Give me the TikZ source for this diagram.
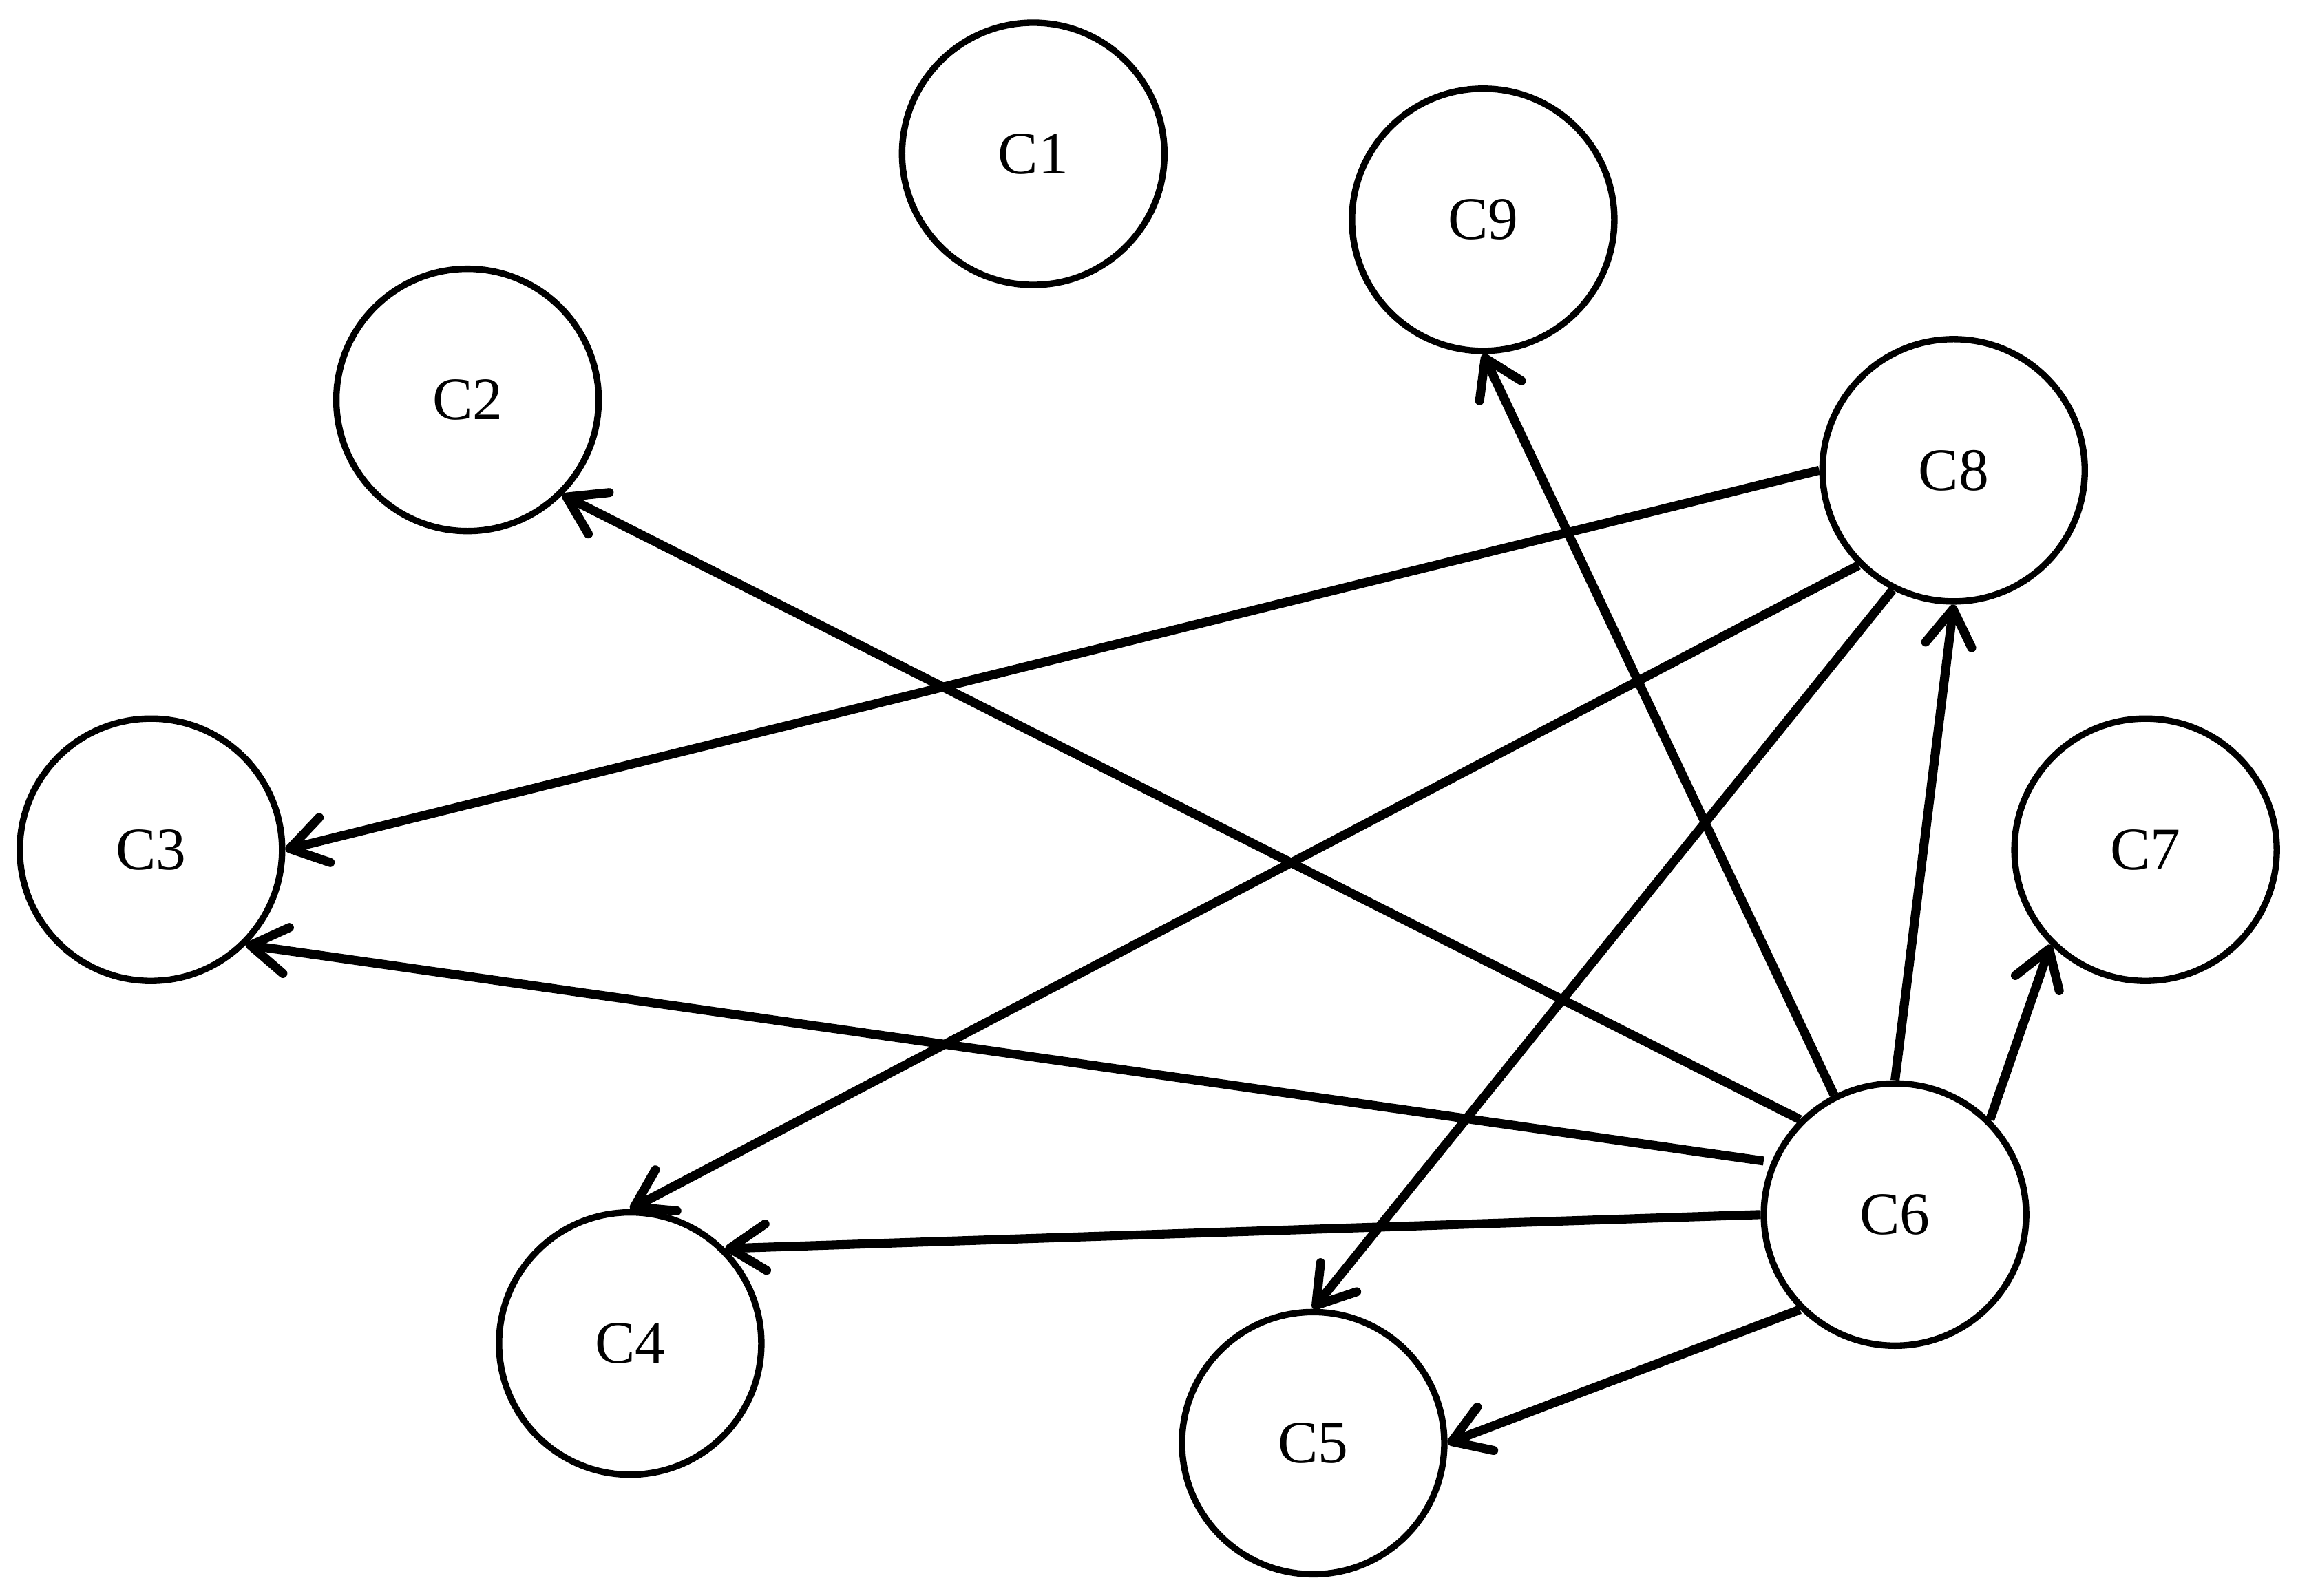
\documentclass[tikz,border=0pt]{standalone}
\usepackage{fontspec}
\setmainfont{Liberation Serif}
\usepackage{tikz}
\usetikzlibrary{arrows.meta}

\tikzset{
    cnode/.style={draw, circle, line width=1.25pt, minimum size=1.79cm, inner sep=0pt, font=\fontsize{11.7}{14}\selectfont},
    cedge/.style={line width=1.75pt, -{Straight Barb[length=7pt,width=9pt,round]}}
}

\begin{document}
\begin{tikzpicture}
    \useasboundingbox (0,0) rectangle (15.68,-10.89);
    \node[cnode](c1) at (7.05,-1.05){C1};
    \node[cnode](c9) at (10.12,-1.50){C9};
    \node[cnode](c2) at (3.19,-2.73){C2};
    \node[cnode](c8) at (13.33,-3.21){C8};
    \node[cnode](c3) at (1.03,-5.80){C3};
    \node[cnode](c7) at (14.64,-5.80){C7};
    \node[cnode](c6) at (12.93,-8.29){C6};
    \node[cnode](c4) at (4.30,-9.17){C4};
    \node[cnode](c5) at (8.96,-9.85){C5};
    % edges out of C6
    \draw[cedge, shorten <=1.5pt](c6.157.7)--(c3.-45);
    \draw[cedge](c6.135)--(c2.-45);
    \draw[cedge](c6.117.6)--(c9.south);
    \draw[cedge](c6.north)--(c8.south);
    \draw[cedge](c6.45)--(c7.-135);
    \draw[cedge](c6.west)--(c4.45);
    \draw[cedge](c6.-135)--(c5.east);
    % edges out of C8
    \draw[cedge](c8.west)--(c3.east);
    \draw[cedge](c8.-135)--(c4.north);
    \draw[cedge](c8.-117.5)--(c5.north);
\end{tikzpicture}
\end{document}
